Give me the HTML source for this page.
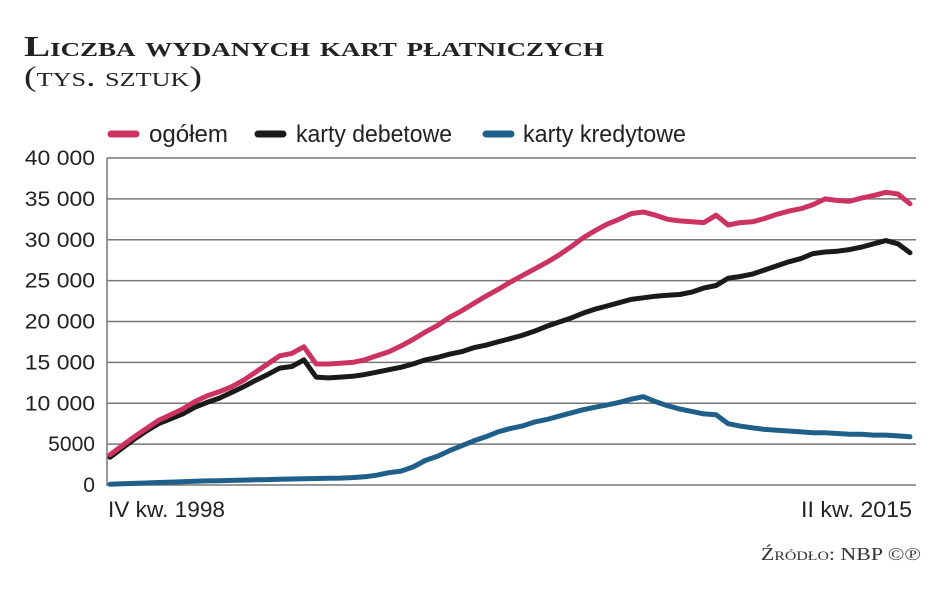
<!DOCTYPE html>
<html><head><meta charset="utf-8"><style>
html,body{margin:0;padding:0;background:#fff;}
svg{display:block;}
text{font-family:"Liberation Sans",sans-serif;}
.serif{font-family:"Liberation Serif",serif;font-variant:small-caps;}
</style></head><body>
<svg id="chart" width="948" height="593" viewBox="0 0 948 593" xmlns="http://www.w3.org/2000/svg">
<text class="serif" x="24" y="56" font-size="29" font-weight="bold" fill="#222" textLength="580" lengthAdjust="spacingAndGlyphs">Liczba wydanych kart płatniczych</text>
<text class="serif" x="24" y="86" font-size="29" fill="#222" textLength="178" lengthAdjust="spacingAndGlyphs">(tys. sztuk)</text>
<g>
<g><line x1="111" y1="134" x2="136" y2="134" stroke="#cc3360" stroke-width="7" stroke-linecap="round"/><text x="149" y="142" font-size="24" fill="#222" textLength="79" lengthAdjust="spacingAndGlyphs">ogółem</text></g>
<g><line x1="258" y1="134" x2="283" y2="134" stroke="#1a1a1a" stroke-width="7" stroke-linecap="round"/><text x="296" y="142" font-size="24" fill="#222" textLength="156" lengthAdjust="spacingAndGlyphs">karty debetowe</text></g>
<g><line x1="486" y1="134" x2="511" y2="134" stroke="#1f5f8a" stroke-width="7" stroke-linecap="round"/><text x="523" y="142" font-size="24" fill="#222" textLength="163" lengthAdjust="spacingAndGlyphs">karty kredytowe</text></g>
</g>
<g id="grid"></g>
<g id="yaxis"></g>
<line x1="107" y1="158" x2="107" y2="486" stroke="#777" stroke-width="1.5"/>
<g id="series"></g>
<text x="108" y="517" font-size="22" fill="#222" textLength="117" lengthAdjust="spacingAndGlyphs">IV kw. 1998</text>
<text x="912" y="517" font-size="22" fill="#222" text-anchor="end" textLength="111" lengthAdjust="spacingAndGlyphs">II kw. 2015</text>
<text class="serif" x="921" y="560" font-size="18" fill="#333" text-anchor="end" textLength="160" lengthAdjust="spacingAndGlyphs">Źródło: NBP ©℗</text>
</svg>
<script>
const yTicks = [0, 5000, 10000, 15000, 20000, 25000, 30000, 35000, 40000];
const yTickLabels = ["0", "5000", "10 000", "15 000", "20 000", "25 000", "30 000", "35 000", "40 000"];
const total = [3700,4800,5900,6900,7900,8600,9300,10200,10900,11400,12000,12800,13800,14800,15800,16100,16900,14800,14800,14900,15000,15300,15800,16300,17000,17800,18700,19500,20500,21300,22200,23100,23900,24800,25600,26400,27200,28100,29100,30200,31100,31900,32500,33200,33400,33000,32500,32300,32200,32100,33000,31800,32100,32200,32600,33100,33500,33800,34300,35000,34800,34700,35100,35400,35800,35600,34400];
const debit = [3400,4500,5600,6600,7500,8100,8700,9500,10100,10600,11300,12000,12800,13500,14300,14500,15300,13200,13100,13200,13300,13500,13800,14100,14400,14800,15300,15600,16000,16300,16800,17100,17500,17900,18300,18800,19400,19900,20400,21000,21500,21900,22300,22700,22900,23100,23200,23300,23600,24100,24400,25300,25500,25800,26300,26800,27300,27700,28300,28500,28600,28800,29100,29500,29900,29500,28400];
const credit = [100,150,200,250,300,350,400,450,500,530,560,600,630,660,700,730,760,800,820,850,900,1000,1200,1500,1700,2200,3000,3500,4200,4800,5400,5900,6500,6900,7200,7700,8000,8400,8800,9200,9500,9800,10100,10500,10800,10200,9700,9300,9000,8700,8600,7500,7200,7000,6800,6700,6600,6500,6400,6400,6300,6200,6200,6100,6100,6000,5900];

const NS = "http://www.w3.org/2000/svg";
const X0 = 110, X1 = 910, Y0 = 485, Y1 = 158, YMAX = 40000;
function xScale(i, n) { return X0 + (X1 - X0) * i / (n - 1); }
function yScale(v) { return Y0 - (Y0 - Y1) * v / YMAX; }

const grid = document.getElementById('grid');
const yaxis = document.getElementById('yaxis');
yTicks.forEach((t, k) => {
  const l = document.createElementNS(NS, 'line');
  
  
  l.setAttribute('x1', 107); l.setAttribute('x2', 916);
  l.setAttribute('y1', yScale(t)); l.setAttribute('y2', yScale(t));
  l.setAttribute('stroke', '#777'); l.setAttribute('stroke-width', '1.5');
  grid.appendChild(l);
  const tx = document.createElementNS(NS, 'text');
  
  
  tx.setAttribute('x', 95); tx.setAttribute('y', yScale(t) + 7);
  tx.setAttribute('text-anchor', 'end'); tx.setAttribute('font-size', '21');
  tx.setAttribute('fill', '#222');
  const w = yTickLabels[k].length * 11.7;
  tx.setAttribute('textLength', w); tx.setAttribute('lengthAdjust', 'spacingAndGlyphs');
  tx.textContent = yTickLabels[k];
  yaxis.appendChild(tx);
});

const series = document.getElementById('series');
function drawLine(vals, color, name) {
  const p = document.createElementNS(NS, 'polyline');
  
  
  p.setAttribute('points', vals.map((v, i) => xScale(i, vals.length).toFixed(1) + ',' + yScale(v).toFixed(1)).join(' '));
  p.setAttribute('fill', 'none'); p.setAttribute('stroke', color);
  p.setAttribute('stroke-width', '5'); p.setAttribute('stroke-linejoin', 'round'); p.setAttribute('stroke-linecap', 'round');
  series.appendChild(p);
}
drawLine(credit, '#1f5f8a', 'line-credit-cards');
drawLine(debit, '#1a1a1a', 'line-debit-cards');
drawLine(total, '#cc3360', 'line-total');
</script>
</body></html>
